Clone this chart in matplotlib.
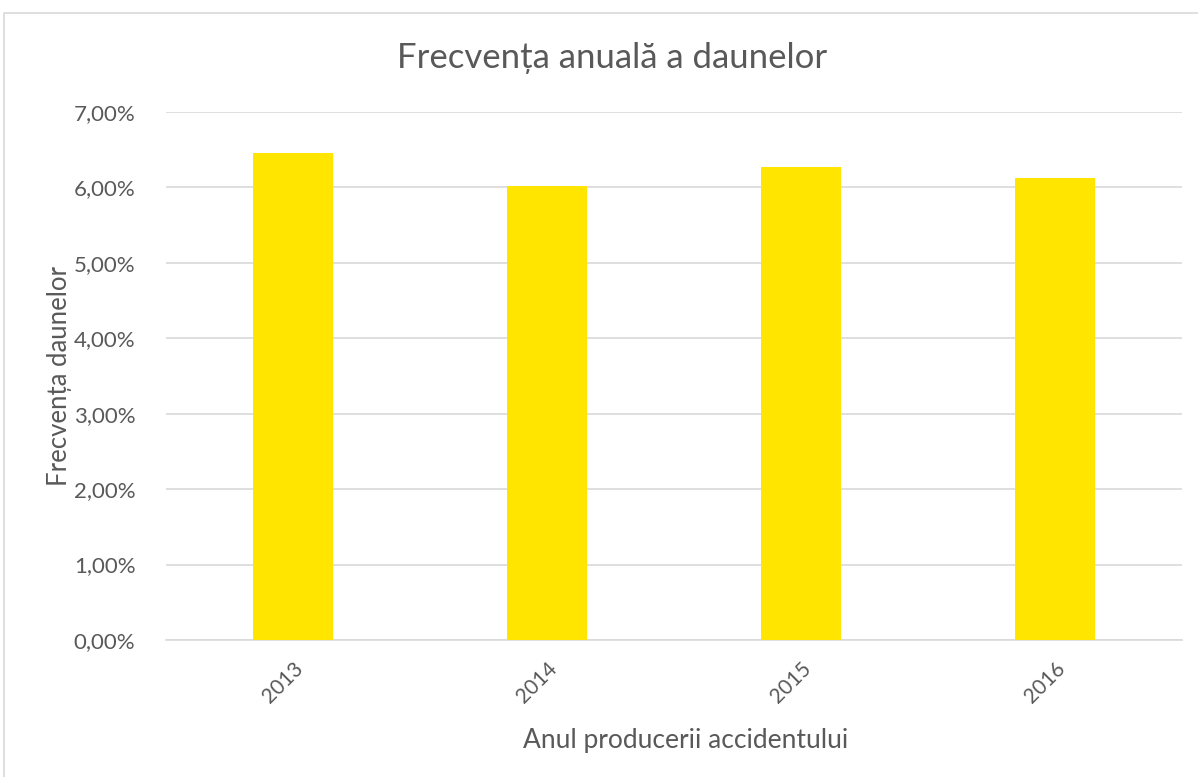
import matplotlib.pyplot as plt
from matplotlib.patches import Rectangle
from matplotlib.ticker import FuncFormatter

# Data
years = ["2013", "2014", "2015", "2016"]
frecventa = [6.46, 6.02, 6.27, 6.13]  # %

plt.rcParams['font.family'] = ['Lato', 'DejaVu Sans']
text_color = "#595959"

fig = plt.figure(figsize=(11.98, 7.77), dpi=100)
ax = fig.add_axes([166 / 1198, 1 - 640 / 777, 1016 / 1198, 528 / 777])

x = range(len(years))
ax.bar(x, frecventa, width=0.315, color="#FFE500", zorder=3)

ax.set_xlim(-0.5, len(years) - 0.5)
ax.set_ylim(0, 7)
ax.set_yticks(range(0, 8))
ax.yaxis.set_major_formatter(FuncFormatter(lambda v, p: f"{v:.2f}%".replace(".", ",")))
ax.grid(axis="y", color="#D9D9D9", linewidth=1.2, zorder=0)

ax.set_xticks(list(x))
ax.set_xticklabels(years, rotation=45, ha="right", va="top", rotation_mode="anchor")

for s in ["top", "right", "left"]:
    ax.spines[s].set_visible(False)
ax.spines["bottom"].set_color("#D9D9D9")
ax.spines["bottom"].set_linewidth(1.2)
ax.tick_params(length=0, colors=text_color)
ax.tick_params(axis="y", labelsize=16, pad=22)
ax.tick_params(axis="x", labelsize=15, pad=13)

ax.set_xlabel("Anul producerii accidentului", fontsize=19, color=text_color)
ax.set_ylabel("Frecvența daunelor", fontsize=18.5, color=text_color)
ax.xaxis.set_label_coords(0.511, -0.166)
ax.yaxis.set_label_coords(-0.0925, 0.5)
fig.text(0.511, 1 - 58 / 777, "Frecvența anuală a daunelor", fontsize=25,
         color=text_color, ha="center", va="center")

# Chart border
fig.patches.append(Rectangle((4 / 1198, -0.01), 1.0, 1 - 13 / 777 + 0.01,
                             transform=fig.transFigure, fill=False,
                             edgecolor="#D9D9D9", linewidth=1.2))

fig.savefig("out.png", dpi=100)
